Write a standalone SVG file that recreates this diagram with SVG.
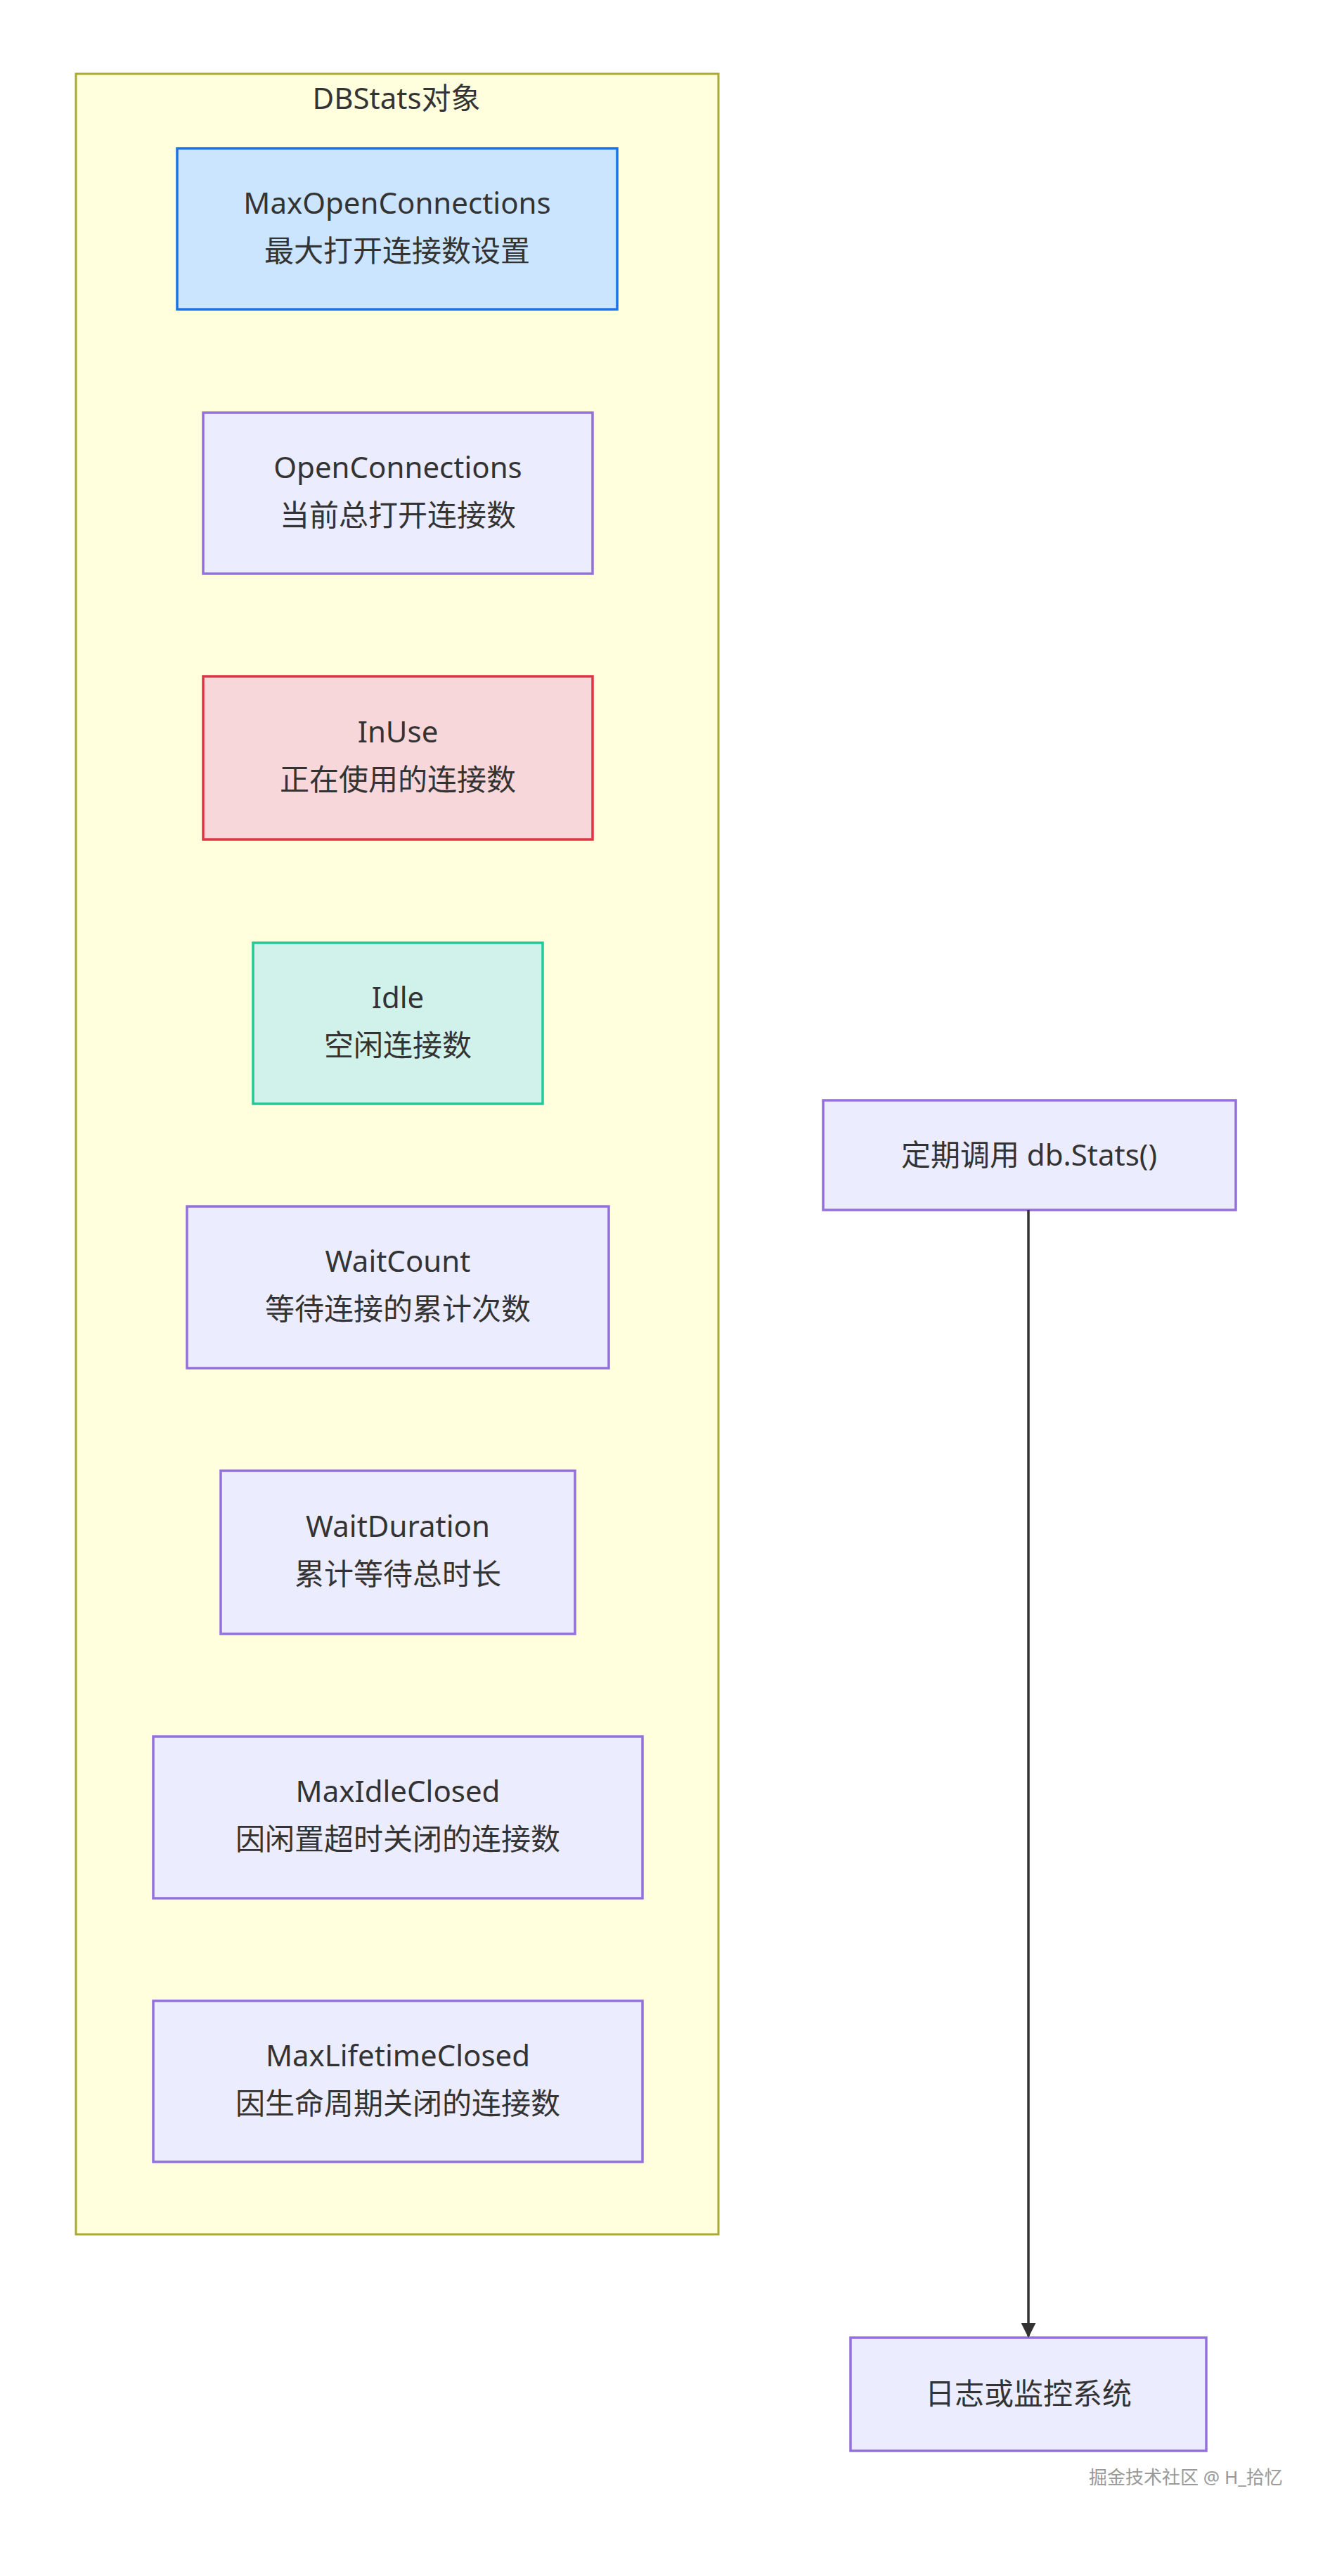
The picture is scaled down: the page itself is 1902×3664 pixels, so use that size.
<svg xmlns="http://www.w3.org/2000/svg" width="1902" height="3664" viewBox="0 0 1902 3664">
<style>
text{font-family:"Noto Sans","Noto Sans CJK SC",sans-serif;font-size:42px;fill:#333;text-anchor:middle}
.n{fill:#ECECFF;stroke:#9370DB;stroke-width:3.5}
.wm{font-size:26px;fill:#999;text-anchor:start}
</style>
<defs><marker id="a" viewBox="0 0 10 10" refX="9" refY="5" markerWidth="6" markerHeight="6" orient="auto"><path d="M0,0L10,5L0,10z" fill="#333"/></marker></defs>
<rect width="1902" height="3664" fill="#fff"/>
<g id="DBStats"><rect x="108" y="105" width="914" height="3073" fill="#ffffde" stroke="#aaaa33" stroke-width="3"/><text x="564" y="155">DBStats对象</text></g>
<g id="n1"><rect x="252" y="211" width="626" height="229" fill="#cce5ff" stroke="#1a73e8" stroke-width="3.5"/><text x="565" y="304">MaxOpenConnections</text><text x="565" y="372">最大打开连接数设置</text></g>
<g id="n2"><rect class="n" x="289" y="587" width="554" height="229"/><text x="566" y="680">OpenConnections</text><text x="566" y="748">当前总打开连接数</text></g>
<g id="n3"><rect x="289" y="962" width="554" height="232" fill="#f8d7da" stroke="#dc3545" stroke-width="3.5"/><text x="566" y="1056">InUse</text><text x="566" y="1124">正在使用的连接数</text></g>
<g id="n4"><rect x="360" y="1341" width="412" height="229" fill="#d1f2eb" stroke="#20c997" stroke-width="3.5"/><text x="566" y="1434">Idle</text><text x="566" y="1502">空闲连接数</text></g>
<g id="n5"><rect class="n" x="266" y="1716" width="600" height="230"/><text x="566" y="1809">WaitCount</text><text x="566" y="1877">等待连接的累计次数</text></g>
<g id="n6"><rect class="n" x="314" y="2092" width="504" height="232"/><text x="566" y="2186">WaitDuration</text><text x="566" y="2254">累计等待总时长</text></g>
<g id="n7"><rect class="n" x="218" y="2470" width="696" height="230"/><text x="566" y="2563">MaxIdleClosed</text><text x="566" y="2631">因闲置超时关闭的连接数</text></g>
<g id="n8"><rect class="n" x="218" y="2846" width="696" height="229"/><text x="566" y="2939">MaxLifetimeClosed</text><text x="566" y="3007">因生命周期关闭的连接数</text></g>
<g id="call"><rect class="n" x="1171" y="1565" width="587" height="156"/><text x="1464" y="1658">定期调用 db.Stats()</text></g>
<g id="log"><rect class="n" x="1210" y="3325" width="506" height="161"/><text x="1463" y="3420">日志或监控系统</text></g>
<g id="edges"><line x1="1463" y1="1721" x2="1463" y2="3323" stroke="#333" stroke-width="3.5" marker-end="url(#a)"/></g>
<text class="wm" x="1549" y="3533">掘金技术社区 @ H_拾忆</text>
</svg>
